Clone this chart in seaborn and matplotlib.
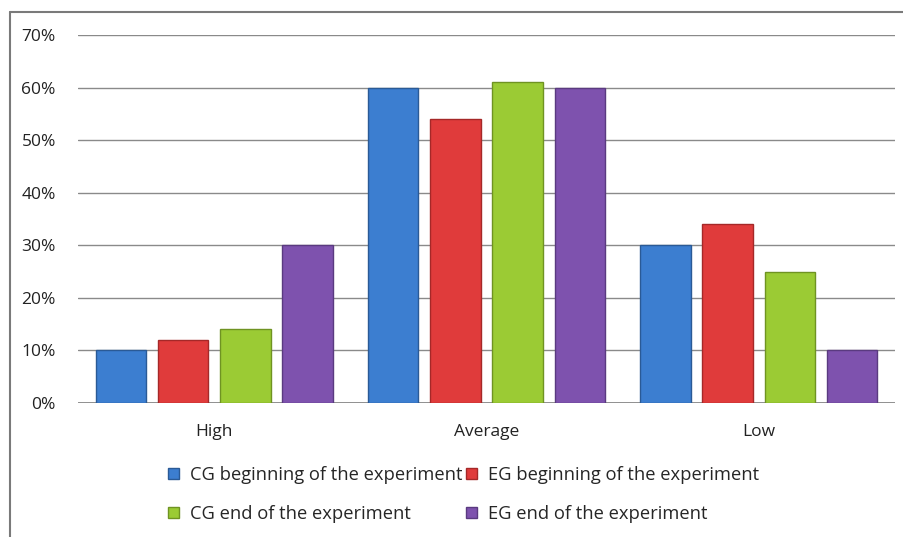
import matplotlib
matplotlib.use("Agg")
import matplotlib.pyplot as plt
from matplotlib.lines import Line2D
from matplotlib.patches import Patch
from matplotlib.ticker import PercentFormatter
import seaborn as sns
import pandas as pd

levels = ["High", "Average", "Low"]
series = [
    "CG beginning of the experiment",
    "EG beginning of the experiment",
    "CG end of the experiment",
    "EG end of the experiment",
]
cg_begin = [0.10, 0.60, 0.30]
eg_begin = [0.12, 0.54, 0.34]
cg_end = [0.14, 0.61, 0.25]
eg_end = [0.30, 0.60, 0.10]
y_ticks = [0.0, 0.1, 0.2, 0.3, 0.4, 0.5, 0.6, 0.7]

colors = ["#3C7ED0", "#E03B3B", "#9BCB34", "#7E52AE"]
edges = ["#2A5A96", "#A52828", "#6F9322", "#5A3A80"]

rows = []
for name, vals in zip(series, [cg_begin, eg_begin, cg_end, eg_end]):
    for lvl, v in zip(levels, vals):
        rows.append({"level": lvl, "group": name, "share": v})
df = pd.DataFrame(rows)

sns.set_theme(style="white")
plt.rcParams["font.family"] = ["Open Sans", "DejaVu Sans"]

fig = plt.figure(figsize=(9.04, 5.37), dpi=100)
ax = fig.add_axes([0.0863, 0.2495, 0.9037, 0.6853])

sns.barplot(data=df, x="level", y="share", hue="group", order=levels,
            hue_order=series, palette=colors, width=0.915, gap=0.19,
            ax=ax, legend=False, saturation=1)

# darker outline for each bar, matched to its series colour
for container, ec in zip(ax.containers, edges):
    for bar in container:
        bar.set_edgecolor(ec)
        bar.set_linewidth(1.0)

ax.set_ylim(0, 0.7)
ax.set_xlim(-0.5, 2.5)
ax.set_yticks(y_ticks)
ax.yaxis.set_major_formatter(PercentFormatter(1.0, decimals=0))
ax.yaxis.grid(True, color="#8a8a8a", linewidth=1.0)
ax.set_axisbelow(True)
for s in ax.spines.values():
    s.set_visible(False)
ax.axhline(0, color="#808080", linewidth=1.2, zorder=0.5)
ax.set_xlabel("")
ax.set_ylabel("")
ax.tick_params(axis="y", labelsize=12.5, pad=16, length=0, colors="#222222")
ax.tick_params(axis="x", labelsize=12.5, pad=15, length=0, colors="#222222")

# legend filled row by row: column-major order for matplotlib
handles = [Patch(facecolor=c, edgecolor=e, label=l) for c, e, l in zip(colors, edges, series)]
order = [0, 2, 1, 3]
fig.legend(handles=[handles[i] for i in order], loc="center",
           bbox_to_anchor=(0.513, 0.079), ncol=2,
           frameon=False, fontsize=13.2, handlelength=0.6, handleheight=0.6,
           handletextpad=0.6, columnspacing=0.2, labelspacing=1.15)

# chart frame: top and left edges
fig.add_artist(Line2D([0.011, 1.0], [0.978, 0.978], transform=fig.transFigure,
                      color="#7a7a7a", linewidth=1.5))
fig.add_artist(Line2D([0.011, 0.011], [0.0, 0.978], transform=fig.transFigure,
                      color="#7a7a7a", linewidth=1.5))

fig.savefig("out.png", dpi=100)
